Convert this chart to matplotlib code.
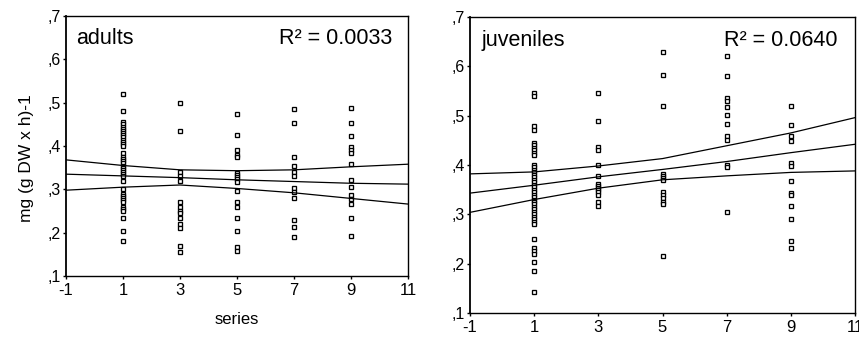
import matplotlib

matplotlib.use("Agg")
import matplotlib.pyplot as plt

plt.rcParams["font.family"] = ["Liberation Sans", "DejaVu Sans"]
plt.rcParams["axes.unicode_minus"] = False

# series on the x axis
series_x = [1, 3, 5, 7, 9]

# adults, values per series
adults_s1 = [0.52, 0.48, 0.455, 0.45, 0.445, 0.44, 0.435, 0.43, 0.425, 0.42, 0.415, 0.41, 0.405,
             0.40, 0.385, 0.375, 0.37, 0.365, 0.36, 0.355, 0.35, 0.345, 0.34, 0.335, 0.33, 0.32,
             0.30, 0.29, 0.285, 0.28, 0.275, 0.27, 0.26, 0.255, 0.25, 0.235, 0.205, 0.18]
adults_s3 = [0.50, 0.435, 0.34, 0.33, 0.32, 0.27, 0.26, 0.25, 0.245, 0.235, 0.22, 0.21, 0.17, 0.155]
adults_s5 = [0.475, 0.425, 0.39, 0.38, 0.375, 0.337, 0.333, 0.328, 0.323, 0.317, 0.297, 0.27,
             0.26, 0.235, 0.205, 0.168, 0.158]
adults_s7 = [0.485, 0.452, 0.375, 0.355, 0.34, 0.33, 0.302, 0.295, 0.28, 0.23, 0.212, 0.19]
adults_s9 = [0.487, 0.452, 0.422, 0.398, 0.39, 0.383, 0.358, 0.322, 0.306, 0.287, 0.277, 0.266,
             0.235, 0.192]

# juveniles, values per series
juveniles_s1 = [0.545, 0.54, 0.48, 0.47, 0.445, 0.44, 0.435, 0.43, 0.425, 0.42, 0.40, 0.395, 0.39,
                0.385, 0.38, 0.375, 0.37, 0.365, 0.36, 0.355, 0.35, 0.345, 0.34, 0.335, 0.33, 0.325,
                0.32, 0.315, 0.31, 0.305, 0.30, 0.295, 0.29, 0.285, 0.28, 0.25, 0.232, 0.225, 0.22,
                0.203, 0.186, 0.142]
juveniles_s3 = [0.545, 0.49, 0.437, 0.43, 0.40, 0.378, 0.362, 0.358, 0.354, 0.35, 0.345, 0.34,
                0.324, 0.316]
juveniles_s5 = [0.63, 0.583, 0.52, 0.382, 0.378, 0.374, 0.37, 0.346, 0.34, 0.333, 0.326, 0.32, 0.215]
juveniles_s7 = [0.62, 0.58, 0.535, 0.53, 0.518, 0.502, 0.483, 0.458, 0.45, 0.40, 0.395, 0.305]
juveniles_s9 = [0.52, 0.482, 0.458, 0.448, 0.405, 0.397, 0.368, 0.344, 0.34, 0.316, 0.29, 0.245, 0.232]

# regression line and confidence band, read at these x positions
line_x = [-1, 1, 3, 5, 7, 9, 11]
adults_fit = [0.335, 0.331, 0.327, 0.322, 0.318, 0.314, 0.312]
adults_upper = [0.368, 0.355, 0.345, 0.343, 0.345, 0.352, 0.358]
adults_lower = [0.298, 0.305, 0.310, 0.302, 0.292, 0.279, 0.266]
juveniles_fit = [0.343, 0.359, 0.376, 0.391, 0.407, 0.425, 0.442]
juveniles_upper = [0.382, 0.386, 0.398, 0.413, 0.439, 0.465, 0.496]
juveniles_lower = [0.304, 0.330, 0.353, 0.370, 0.378, 0.385, 0.388]

y_ticks = [0.1, 0.2, 0.3, 0.4, 0.5, 0.6, 0.7]
y_tick_labels = [",1", ",2", ",3", ",4", ",5", ",6", ",7"]
x_ticks = [-1, 1, 3, 5, 7, 9, 11]

panels = [
    ("adults", "R² = 0.0033", [adults_s1, adults_s3, adults_s5, adults_s7, adults_s9],
     adults_fit, adults_upper, adults_lower, [66, 16, 408, 276]),
    ("juveniles", "R² = 0.0640", [juveniles_s1, juveniles_s3, juveniles_s5, juveniles_s7, juveniles_s9],
     juveniles_fit, juveniles_upper, juveniles_lower, [470, 17, 855, 313]),
]

W, H = 859, 346
fig = plt.figure(figsize=(W / 100, H / 100), dpi=100)

for name, r2_text, groups, fit, upper, lower, box in panels:
    x0, y0, x1, y1 = box
    ax = fig.add_axes([x0 / W, 1 - y1 / H, (x1 - x0) / W, (y1 - y0) / H])

    for sx, vals in zip(series_x, groups):
        ax.plot([sx] * len(vals), vals, linestyle="none", marker="s", markersize=3.4,
                markerfacecolor="white", markeredgecolor="black", markeredgewidth=0.95)

    for ys in (fit, upper, lower):
        ax.plot(line_x, ys, color="black", linewidth=0.9)

    ax.set_xlim(-1, 11)
    ax.set_ylim(0.1, 0.7)
    ax.set_xticks(x_ticks)
    ax.set_yticks(y_ticks)
    ax.set_yticklabels(y_tick_labels)
    ax.tick_params(axis="x", labelsize=12, length=2, width=1, pad=3)
    ax.tick_params(axis="y", labelsize=11.5, length=2, width=1, pad=2)
    for spine in ax.spines.values():
        spine.set_linewidth(1.0)
    ax.spines["left"].set_linewidth(1.3)

    ax.text(0.03, 0.955, name, transform=ax.transAxes, ha="left", va="top", fontsize=15.5)
    ax.text(0.955, 0.955, r2_text, transform=ax.transAxes, ha="right", va="top", fontsize=15.5)

fig.text(26 / W, 1 - 158 / H, "mg (g DW x h)-1", rotation=90, ha="center", va="center", fontsize=12.5)
fig.text(237 / W, 1 - 320 / H, "series", ha="center", va="center", fontsize=12)

fig.savefig("out.png", dpi=100)
